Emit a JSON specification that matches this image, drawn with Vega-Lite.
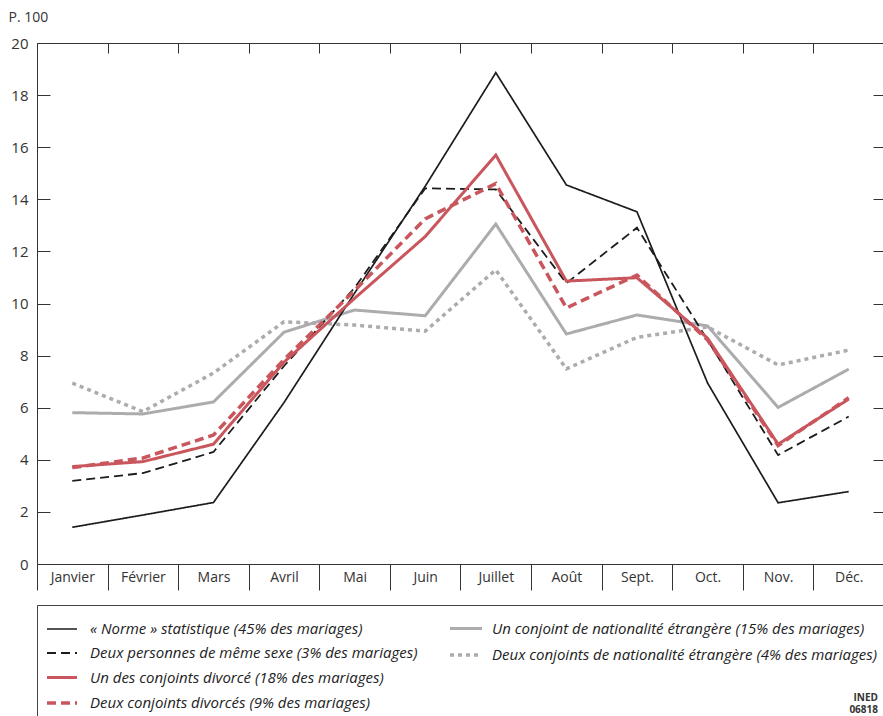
{
  "$schema": "https://vega.github.io/schema/vega-lite/v6.json",
  "autosize": {"type": "pad"},
  "padding": {"left": 8, "top": 10, "right": 0, "bottom": 0},
  "background": "white",
  "bounds": "flush",
  "spacing": 41,
  "config": {
    "view": {"stroke": null},
    "font": "Open Sans",
    "axis": {"domainColor": "#333", "tickColor": "#333", "labelColor": "#333", "labelFont": "Open Sans", "labelFontSize": 14, "grid": false, "domainWidth": 1, "tickWidth": 1}
  },
  "datasets": {
    "d": [
      {"mois": "Janvier", "serie": "« Norme » statistique (45% des mariages)", "valeur": 1.41},
      {"mois": "Février", "serie": "« Norme » statistique (45% des mariages)", "valeur": 1.88},
      {"mois": "Mars", "serie": "« Norme » statistique (45% des mariages)", "valeur": 2.36},
      {"mois": "Avril", "serie": "« Norme » statistique (45% des mariages)", "valeur": 6.2},
      {"mois": "Mai", "serie": "« Norme » statistique (45% des mariages)", "valeur": 10.4},
      {"mois": "Juin", "serie": "« Norme » statistique (45% des mariages)", "valeur": 14.5},
      {"mois": "Juillet", "serie": "« Norme » statistique (45% des mariages)", "valeur": 18.86},
      {"mois": "Août", "serie": "« Norme » statistique (45% des mariages)", "valeur": 14.55},
      {"mois": "Sept.", "serie": "« Norme » statistique (45% des mariages)", "valeur": 13.52},
      {"mois": "Oct.", "serie": "« Norme » statistique (45% des mariages)", "valeur": 6.95},
      {"mois": "Nov.", "serie": "« Norme » statistique (45% des mariages)", "valeur": 2.35},
      {"mois": "Déc.", "serie": "« Norme » statistique (45% des mariages)", "valeur": 2.78},
      {"mois": "Janvier", "serie": "Deux personnes de même sexe (3% des mariages)", "valeur": 3.19},
      {"mois": "Février", "serie": "Deux personnes de même sexe (3% des mariages)", "valeur": 3.49},
      {"mois": "Mars", "serie": "Deux personnes de même sexe (3% des mariages)", "valeur": 4.3},
      {"mois": "Avril", "serie": "Deux personnes de même sexe (3% des mariages)", "valeur": 7.6},
      {"mois": "Mai", "serie": "Deux personnes de même sexe (3% des mariages)", "valeur": 10.6},
      {"mois": "Juin", "serie": "Deux personnes de même sexe (3% des mariages)", "valeur": 14.42},
      {"mois": "Juillet", "serie": "Deux personnes de même sexe (3% des mariages)", "valeur": 14.38},
      {"mois": "Août", "serie": "Deux personnes de même sexe (3% des mariages)", "valeur": 10.78},
      {"mois": "Sept.", "serie": "Deux personnes de même sexe (3% des mariages)", "valeur": 12.91},
      {"mois": "Oct.", "serie": "Deux personnes de même sexe (3% des mariages)", "valeur": 8.6},
      {"mois": "Nov.", "serie": "Deux personnes de même sexe (3% des mariages)", "valeur": 4.18},
      {"mois": "Déc.", "serie": "Deux personnes de même sexe (3% des mariages)", "valeur": 5.66},
      {"mois": "Janvier", "serie": "Un des conjoints divorcé (18% des mariages)", "valeur": 3.74},
      {"mois": "Février", "serie": "Un des conjoints divorcé (18% des mariages)", "valeur": 3.93},
      {"mois": "Mars", "serie": "Un des conjoints divorcé (18% des mariages)", "valeur": 4.6},
      {"mois": "Avril", "serie": "Un des conjoints divorcé (18% des mariages)", "valeur": 7.75},
      {"mois": "Mai", "serie": "Un des conjoints divorcé (18% des mariages)", "valeur": 10.2},
      {"mois": "Juin", "serie": "Un des conjoints divorcé (18% des mariages)", "valeur": 12.57},
      {"mois": "Juillet", "serie": "Un des conjoints divorcé (18% des mariages)", "valeur": 15.7},
      {"mois": "Août", "serie": "Un des conjoints divorcé (18% des mariages)", "valeur": 10.86},
      {"mois": "Sept.", "serie": "Un des conjoints divorcé (18% des mariages)", "valeur": 10.99},
      {"mois": "Oct.", "serie": "Un des conjoints divorcé (18% des mariages)", "valeur": 8.67},
      {"mois": "Nov.", "serie": "Un des conjoints divorcé (18% des mariages)", "valeur": 4.6},
      {"mois": "Déc.", "serie": "Un des conjoints divorcé (18% des mariages)", "valeur": 6.33},
      {"mois": "Janvier", "serie": "Deux conjoints divorcés (9% des mariages)", "valeur": 3.7},
      {"mois": "Février", "serie": "Deux conjoints divorcés (9% des mariages)", "valeur": 4.07},
      {"mois": "Mars", "serie": "Deux conjoints divorcés (9% des mariages)", "valeur": 4.95},
      {"mois": "Avril", "serie": "Deux conjoints divorcés (9% des mariages)", "valeur": 7.85},
      {"mois": "Mai", "serie": "Deux conjoints divorcés (9% des mariages)", "valeur": 10.5},
      {"mois": "Juin", "serie": "Deux conjoints divorcés (9% des mariages)", "valeur": 13.25},
      {"mois": "Juillet", "serie": "Deux conjoints divorcés (9% des mariages)", "valeur": 14.6},
      {"mois": "Août", "serie": "Deux conjoints divorcés (9% des mariages)", "valeur": 9.83},
      {"mois": "Sept.", "serie": "Deux conjoints divorcés (9% des mariages)", "valeur": 11.09},
      {"mois": "Oct.", "serie": "Deux conjoints divorcés (9% des mariages)", "valeur": 8.6},
      {"mois": "Nov.", "serie": "Deux conjoints divorcés (9% des mariages)", "valeur": 4.55},
      {"mois": "Déc.", "serie": "Deux conjoints divorcés (9% des mariages)", "valeur": 6.38},
      {"mois": "Janvier", "serie": "Un conjoint de nationalité étrangère (15% des mariages)", "valeur": 5.81},
      {"mois": "Février", "serie": "Un conjoint de nationalité étrangère (15% des mariages)", "valeur": 5.76},
      {"mois": "Mars", "serie": "Un conjoint de nationalité étrangère (15% des mariages)", "valeur": 6.22},
      {"mois": "Avril", "serie": "Un conjoint de nationalité étrangère (15% des mariages)", "valeur": 8.9},
      {"mois": "Mai", "serie": "Un conjoint de nationalité étrangère (15% des mariages)", "valeur": 9.75},
      {"mois": "Juin", "serie": "Un conjoint de nationalité étrangère (15% des mariages)", "valeur": 9.53},
      {"mois": "Juillet", "serie": "Un conjoint de nationalité étrangère (15% des mariages)", "valeur": 13.05},
      {"mois": "Août", "serie": "Un conjoint de nationalité étrangère (15% des mariages)", "valeur": 8.83},
      {"mois": "Sept.", "serie": "Un conjoint de nationalité étrangère (15% des mariages)", "valeur": 9.56},
      {"mois": "Oct.", "serie": "Un conjoint de nationalité étrangère (15% des mariages)", "valeur": 9.14},
      {"mois": "Nov.", "serie": "Un conjoint de nationalité étrangère (15% des mariages)", "valeur": 6.01},
      {"mois": "Déc.", "serie": "Un conjoint de nationalité étrangère (15% des mariages)", "valeur": 7.48},
      {"mois": "Janvier", "serie": "Deux conjoints de nationalité étrangère (4% des mariages)", "valeur": 6.94},
      {"mois": "Février", "serie": "Deux conjoints de nationalité étrangère (4% des mariages)", "valeur": 5.85},
      {"mois": "Mars", "serie": "Deux conjoints de nationalité étrangère (4% des mariages)", "valeur": 7.33},
      {"mois": "Avril", "serie": "Deux conjoints de nationalité étrangère (4% des mariages)", "valeur": 9.3},
      {"mois": "Mai", "serie": "Deux conjoints de nationalité étrangère (4% des mariages)", "valeur": 9.17},
      {"mois": "Juin", "serie": "Deux conjoints de nationalité étrangère (4% des mariages)", "valeur": 8.94},
      {"mois": "Juillet", "serie": "Deux conjoints de nationalité étrangère (4% des mariages)", "valeur": 11.29},
      {"mois": "Août", "serie": "Deux conjoints de nationalité étrangère (4% des mariages)", "valeur": 7.49},
      {"mois": "Sept.", "serie": "Deux conjoints de nationalité étrangère (4% des mariages)", "valeur": 8.7},
      {"mois": "Oct.", "serie": "Deux conjoints de nationalité étrangère (4% des mariages)", "valeur": 9.1},
      {"mois": "Nov.", "serie": "Deux conjoints de nationalité étrangère (4% des mariages)", "valeur": 7.64},
      {"mois": "Déc.", "serie": "Deux conjoints de nationalité étrangère (4% des mariages)", "valeur": 8.21}
    ]
  },
  "vconcat": [
    {
      "width": 847,
      "height": 521,
      "layer": [
        {
          "data": {"name": "d"},
          "transform": [{"filter": {"field": "serie", "oneOf": ["Un conjoint de nationalité étrangère (15% des mariages)", "Deux conjoints de nationalité étrangère (4% des mariages)"]}}],
          "mark": {"type": "line", "strokeCap": "butt", "strokeJoin": "miter"},
          "encoding": {
            "x": {"field": "mois", "type": "nominal", "bandPosition": 0.5,
              "sort": ["Janvier", "Février", "Mars", "Avril", "Mai", "Juin", "Juillet", "Août", "Sept.", "Oct.", "Nov.", "Déc."],
              "scale": {"type": "band", "paddingInner": 0, "paddingOuter": 0},
              "axis": {"orient": "bottom", "title": null, "labelAngle": 0, "tickBand": "extent", "tickSize": 26, "labelPadding": -20, "labelFontSize": 14}},
            "y": {"field": "valeur", "type": "quantitative",
              "scale": {"domain": [0, 20], "nice": false, "zero": true},
              "axis": {"orient": "left", "values": [0, 2, 4, 6, 8, 10, 12, 14, 16, 18, 20], "tickSize": -13, "labelPadding": 22, "labelFontSize": 15,
                "title": "P. 100", "titleAngle": 0, "titleAlign": "left", "titleBaseline": "top", "titleX": -29, "titleY": -33, "titleFontSize": 14, "titleFontWeight": "normal", "titleColor": "#333", "titleFont": "Open Sans"}},
            "color": {"field": "serie", "type": "nominal",
              "scale": {"domain": ["Un conjoint de nationalité étrangère (15% des mariages)", "Deux conjoints de nationalité étrangère (4% des mariages)"], "range": ["#acacae", "#acacae"]},
              "legend": {"orient": "none", "legendX": 411, "legendY": 568, "title": null, "symbolType": "stroke", "symbolSize": 1024, "labelFont": "Open Sans", "labelFontStyle": "italic", "labelFontSize": 15, "labelColor": "#222", "labelOffset": 8, "labelLimit": 500, "rowPadding": -4}},
            "strokeDash": {"field": "serie", "type": "nominal",
              "scale": {"domain": ["Un conjoint de nationalité étrangère (15% des mariages)", "Deux conjoints de nationalité étrangère (4% des mariages)"], "range": [[1, 0], [4, 4]]}},
            "strokeWidth": {"field": "serie", "type": "nominal",
              "scale": {"type": "ordinal", "domain": ["Un conjoint de nationalité étrangère (15% des mariages)", "Deux conjoints de nationalité étrangère (4% des mariages)"], "range": [3, 3.5]}}
          }
        },
        {
          "data": {"name": "d"},
          "transform": [{"filter": {"field": "serie", "oneOf": ["« Norme » statistique (45% des mariages)", "Deux personnes de même sexe (3% des mariages)", "Un des conjoints divorcé (18% des mariages)", "Deux conjoints divorcés (9% des mariages)"]}}],
          "mark": {"type": "line", "strokeCap": "butt", "strokeJoin": "miter"},
          "encoding": {
            "x": {"field": "mois", "type": "nominal", "bandPosition": 0.5,
              "sort": ["Janvier", "Février", "Mars", "Avril", "Mai", "Juin", "Juillet", "Août", "Sept.", "Oct.", "Nov.", "Déc."],
              "scale": {"type": "band", "paddingInner": 0, "paddingOuter": 0},
              "axis": {"orient": "top", "title": null, "labels": false, "tickBand": "extent", "tickSize": -10}},
            "y": {"field": "valeur", "type": "quantitative",
              "scale": {"domain": [0, 20], "nice": false, "zero": true},
              "axis": {"orient": "right", "values": [0, 2, 4, 6, 8, 10, 12, 14, 16, 18, 20], "tickSize": -11, "labels": false, "title": null}},
            "color": {"field": "serie", "type": "nominal",
              "scale": {"domain": ["« Norme » statistique (45% des mariages)", "Deux personnes de même sexe (3% des mariages)", "Un des conjoints divorcé (18% des mariages)", "Deux conjoints divorcés (9% des mariages)"], "range": ["#1c1c1c", "#1c1c1c", "#c9565d", "#c9565d"]},
              "legend": {"orient": "none", "legendX": 8, "legendY": 570, "title": null, "symbolType": "stroke", "symbolSize": 900, "labelFont": "Open Sans", "labelFontStyle": "italic", "labelFontSize": 15, "labelColor": "#222", "labelOffset": 11, "labelLimit": 500, "rowPadding": -1}},
            "strokeDash": {"field": "serie", "type": "nominal",
              "scale": {"domain": ["« Norme » statistique (45% des mariages)", "Deux personnes de même sexe (3% des mariages)", "Un des conjoints divorcé (18% des mariages)", "Deux conjoints divorcés (9% des mariages)"], "range": [[1, 0], [9, 5], [1, 0], [9, 5]]}},
            "strokeWidth": {"field": "serie", "type": "nominal",
              "scale": {"type": "ordinal", "domain": ["« Norme » statistique (45% des mariages)", "Deux personnes de même sexe (3% des mariages)", "Un des conjoints divorcé (18% des mariages)", "Deux conjoints divorcés (9% des mariages)"], "range": [1.7, 1.8, 3, 3.5]}}
          }
        }
      ],
      "resolve": {
        "axis": {"x": "independent", "y": "independent"},
        "scale": {"color": "independent", "strokeDash": "independent", "strokeWidth": "independent"},
        "legend": {"color": "independent", "strokeDash": "independent", "strokeWidth": "independent"}
      }
    },
    {
      "width": 847,
      "height": 120,
      "data": {"values": []},
      "mark": {"type": "point", "opacity": 0},
      "view": {"stroke": "#444", "strokeWidth": 1},
      "title": {"text": ["INED", "06818"], "orient": "bottom", "anchor": "end", "offset": -32, "dx": -6, "fontSize": 10, "fontWeight": "bold", "color": "#333", "font": "Open Sans", "lineHeight": 12}
    }
  ]
}
